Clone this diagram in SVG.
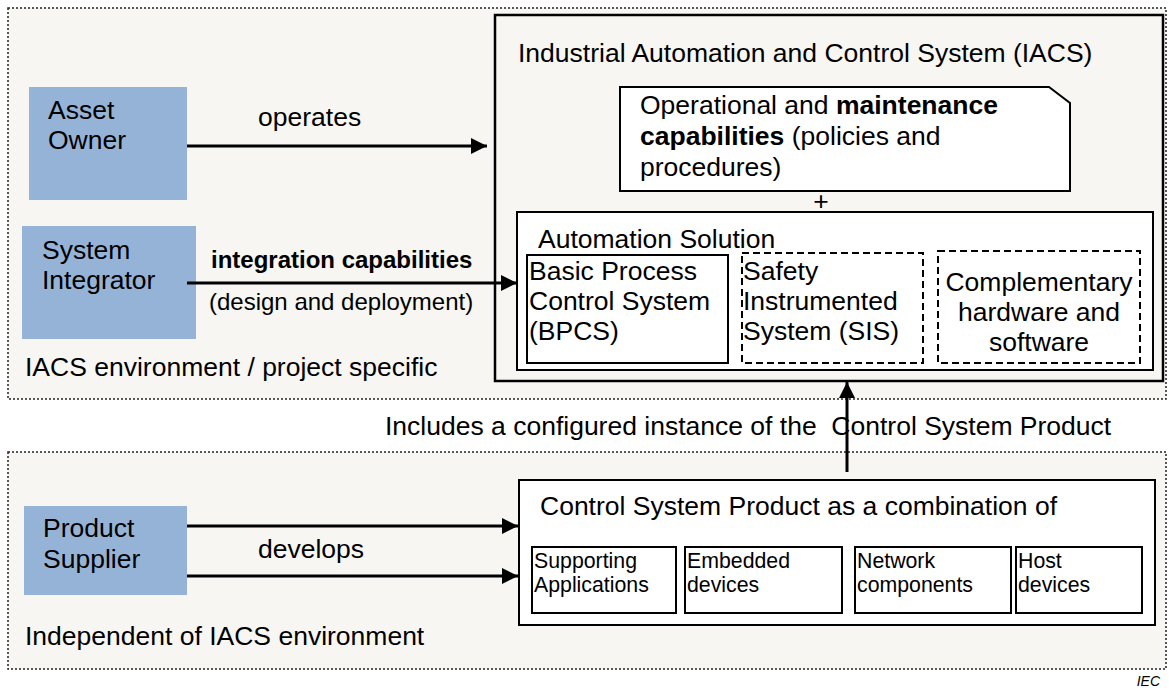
<svg xmlns="http://www.w3.org/2000/svg" width="1169" height="688" viewBox="0 0 1169 688">
<style>
text{font-family:"Liberation Sans",Arial,sans-serif;font-size:26.5px;fill:#000}
.region{fill:#f7f6f2;stroke:#222;stroke-width:1.5;stroke-dasharray:2 2}
.actor{fill:#95b3d7;stroke:none}
.box{fill:#fff;stroke:#000;stroke-width:2}
.dash{fill:#fff;stroke:#000;stroke-width:2;stroke-dasharray:7 4}
.conn{stroke:#000;stroke-width:3;fill:none;marker-end:url(#arr)}
.sm{font-size:21.3px}
.md{font-size:24px}
</style>
<defs>
<marker id="arr" markerUnits="userSpaceOnUse" markerWidth="16" markerHeight="16" refX="16" refY="8" orient="auto">
<path d="M0,0 L16,8 L0,16 z" fill="#000"/>
</marker>
</defs>
<rect width="1169" height="688" fill="#fff"/>
<g id="region-project">
<rect class="region" x="8" y="8" width="1158" height="391"/>
<text x="25" y="376">IACS environment / project specific</text>
</g>
<g id="region-independent">
<rect class="region" x="8" y="452" width="1158" height="217"/>
<text x="25" y="645">Independent of IACS environment</text>
</g>
<g id="asset-owner">
<rect class="actor" x="29" y="87" width="158" height="113"/>
<text x="48" y="119">Asset</text>
<text x="48" y="149">Owner</text>
</g>
<g id="system-integrator">
<rect class="actor" x="22" y="226" width="174" height="113"/>
<text x="42" y="259">System</text>
<text x="42" y="289">Integrator</text>
</g>
<g id="product-supplier">
<rect class="actor" x="24" y="506" width="163" height="89"/>
<text x="43" y="537">Product</text>
<text x="43" y="568">Supplier</text>
</g>
<g id="iacs">
<rect x="495" y="15" width="668" height="366" fill="#f7f6f2" stroke="#000" stroke-width="2.5"/>
<text x="518" y="62">Industrial Automation and Control System (IACS)</text>
</g>
<g id="operational">
<path class="box" d="M620,87 L1049,87 L1070,103 L1070,191 L620,191 z"/>
<text x="640" y="114">Operational and <tspan font-weight="bold">maintenance</tspan></text>
<text x="640" y="145"><tspan font-weight="bold">capabilities</tspan> (policies and</text>
<text x="640" y="176">procedures)</text>
<text x="821" y="210" text-anchor="middle">+</text>
</g>
<g id="automation-solution">
<rect class="box" x="517" y="212" width="636" height="158"/>
<text x="538" y="248">Automation Solution</text>
</g>
<g id="bpcs">
<rect class="box" x="527" y="255" width="201" height="108"/>
<text x="529" y="280">Basic Process</text>
<text x="529" y="310">Control System</text>
<text x="529" y="340">(BPCS)</text>
</g>
<g id="sis">
<rect class="dash" x="742" y="253" width="181" height="110"/>
<text x="743" y="280">Safety</text>
<text x="743" y="310">Instrumented</text>
<text x="743" y="340">System (SIS)</text>
</g>
<g id="complementary">
<rect class="dash" x="938" y="251" width="202" height="112"/>
<text x="1039" y="291" text-anchor="middle">Complementary</text>
<text x="1039" y="321" text-anchor="middle">hardware and</text>
<text x="1039" y="351" text-anchor="middle">software</text>
</g>
<g id="control-system-product">
<rect class="box" x="519" y="480" width="636" height="145"/>
<text x="540" y="515">Control System Product as a combination of</text>
</g>
<g id="supporting-applications">
<rect class="box" x="532" y="547" width="144" height="66"/>
<text class="sm" x="534" y="568">Supporting</text>
<text class="sm" x="534" y="592">Applications</text>
</g>
<g id="embedded-devices">
<rect class="box" x="685" y="547" width="157" height="66"/>
<text class="sm" x="687" y="568">Embedded</text>
<text class="sm" x="687" y="592">devices</text>
</g>
<g id="network-components">
<rect class="box" x="855" y="547" width="156" height="66"/>
<text class="sm" x="857" y="568">Network</text>
<text class="sm" x="857" y="592">components</text>
</g>
<g id="host-devices">
<rect class="box" x="1016" y="547" width="126" height="66"/>
<text class="sm" x="1018" y="568">Host</text>
<text class="sm" x="1018" y="592">devices</text>
</g>
<g id="connectors">
<line class="conn" x1="187" y1="146" x2="487" y2="146"/>
<text x="258" y="126">operates</text>
<line class="conn" x1="187" y1="283" x2="517" y2="283"/>
<text class="md" x="211" y="268" font-weight="bold">integration capabilities</text>
<text class="md" x="209" y="310">(design and deployment)</text>
<line class="conn" x1="187" y1="526" x2="518" y2="526"/>
<line class="conn" x1="187" y1="576" x2="518" y2="576"/>
<text x="258" y="558">develops</text>
<line class="conn" x1="847" y1="472" x2="847" y2="382"/>
<text x="385" y="435" style="white-space:pre">Includes a configured instance of the  Control System Product</text>
</g>
<text x="1160" y="686" text-anchor="end" font-style="italic" style="font-size:14px">IEC</text>
</svg>
